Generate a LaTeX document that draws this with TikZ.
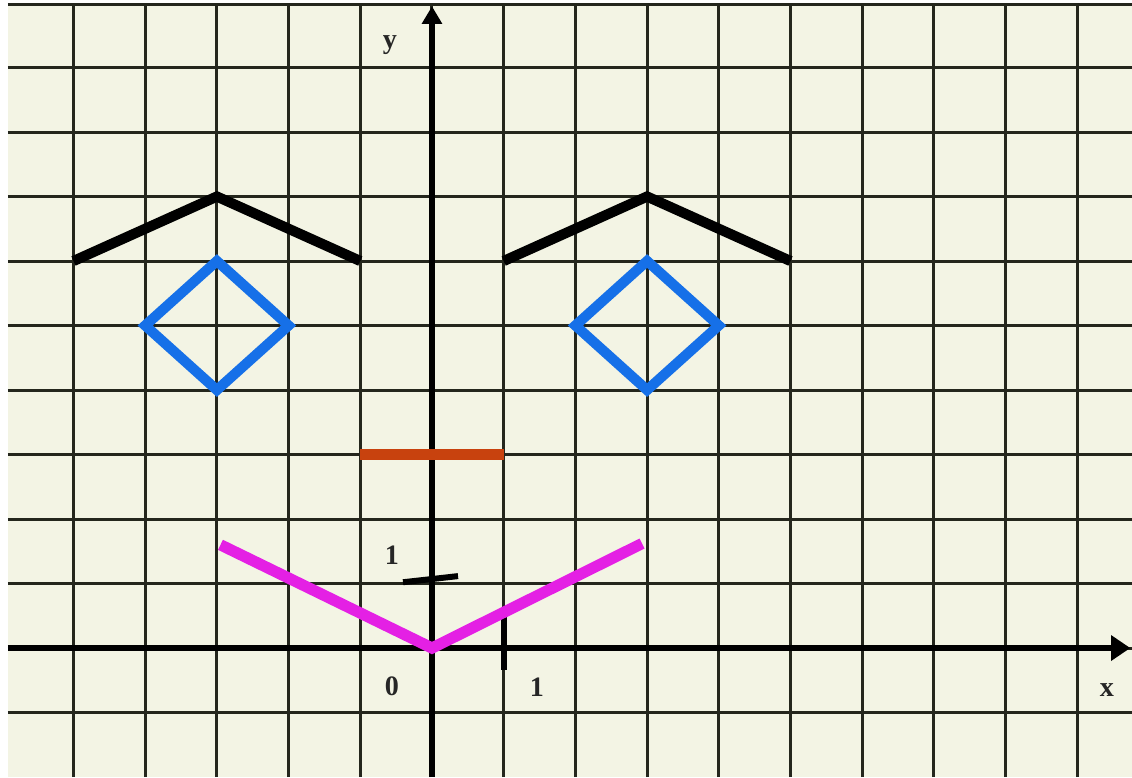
\documentclass[tikz,border=0pt]{standalone}
\usepackage{fontspec}
\setmainfont{Liberation Serif}
\usetikzlibrary{arrows.meta}
\definecolor{paper}{RGB}{243,244,228}
\definecolor{gridc}{RGB}{36,38,28}
\definecolor{eyeblue}{RGB}{22,112,232}
\definecolor{noseorange}{RGB}{200,66,14}
\definecolor{mouthpink}{RGB}{228,32,228}
\tikzset{
  gridline/.style={draw=gridc, line width=0.85pt},
  axisline/.style={draw=black, line width=1.7pt, -{Triangle[length=5.5pt,width=7pt]}},
  yaxisline/.style={draw=black, line width=1.7pt, -{Triangle[length=5pt,width=5.5pt]}},
  brow/.style={draw=black, line width=2.9pt, line join=miter},
  eye/.style={draw=eyeblue, line width=2.9pt, line join=miter},
  nose/.style={draw=noseorange, line width=3pt},
  mouth/.style={draw=mouthpink, line width=3.2pt, line join=miter},
  tick/.style={draw=black, line width=1.7pt},
  lbl/.style={font=\bfseries\fontsize{8}{9}\selectfont, text=black!85, inner sep=0pt}
}
\begin{document}
\begin{tikzpicture}[x=0.717cm, y=0.645cm]
  \useasboundingbox (-6.025,-2.0) rectangle (9.763,10.047);
  \fill[white] (-6.025,-2.0) rectangle (9.763,10.047);
  \fill[paper] (-5.914,-2.0) rectangle (9.763,9.97);
  % grid
  \foreach \i in {-5,...,9} { \draw[gridline] (\i,-2.0) -- (\i,9.97); }
  \foreach \j in {-1,...,9} { \draw[gridline] (-5.914,\j) -- (9.763,\j); }
  \draw[gridline] (-5.914,9.97) -- (9.763,9.97);
  % axes
  \coordinate (xs) at (-5.914,0);
  \coordinate (xe) at (9.74,0);
  \coordinate (ys) at (0,-2.0);
  \coordinate (ye) at (0,9.95);
  \draw[axisline] (xs) -- (xe);
  \draw[yaxisline] (ys) -- (ye);
  % ticks
  \coordinate (xt1) at (1.004,0.48);
  \coordinate (xt2) at (1.004,-0.34);
  \coordinate (yt1) at (-0.404,1.02);
  \coordinate (yt2) at (0.363,1.115);
  \draw[tick] (xt1) -- (xt2);
  \draw[tick] (yt1) -- (yt2);
  % labels
  \node[lbl] (ly) at (-0.586,9.35) {y};
  \node[lbl] (lx) at (9.414,-0.65) {x};
  \node[lbl] (l0) at (-0.558,-0.59) {0};
  \node[lbl] (l1x) at (1.464,-0.6) {1};
  \node[lbl] (l1y) at (-0.558,1.44) {1};
  % eyebrows
  \draw[brow] (-5,6) -- (-3,7) -- (-1,6);
  \draw[brow] (1,6) -- (3,7) -- (5,6);
  % eyes
  \draw[eye] (-3,6) -- (-2,5) -- (-3,4) -- (-4,5) -- cycle;
  \draw[eye] (3,6) -- (4,5) -- (3,4) -- (2,5) -- cycle;
  % nose
  \draw[nose] (-1,3) -- (1,3);
  % mouth
  \draw[mouth] (-2.95,1.6) -- (0,0) -- (2.93,1.62);
\end{tikzpicture}
\end{document}
